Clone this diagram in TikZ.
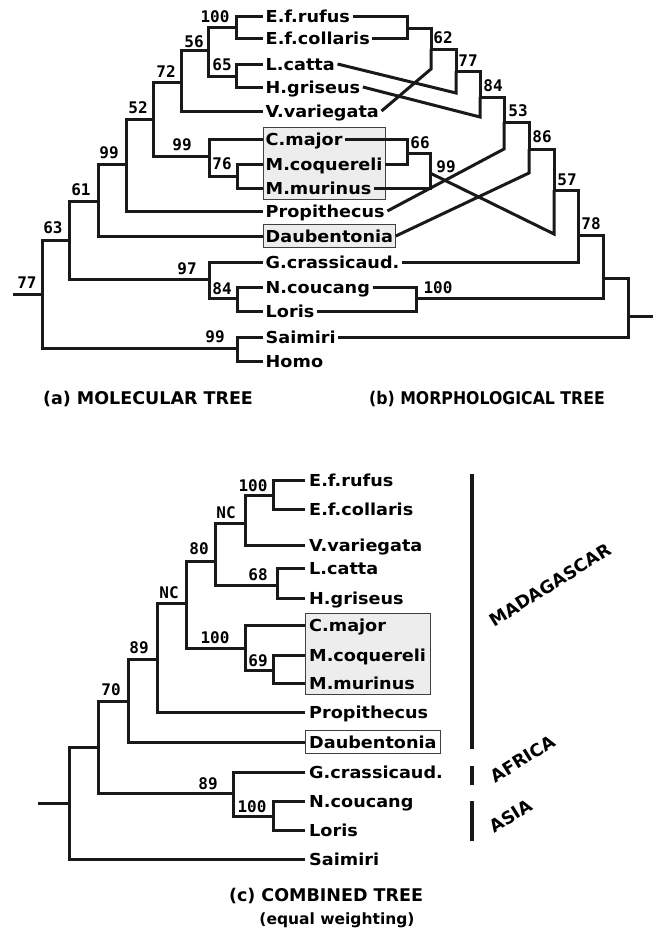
\documentclass[tikz,border=0pt]{standalone}
\usepackage{fontspec}
\setmainfont{DejaVu Sans}
\newfontfamily\taxfont[FakeStretch=1.07]{DejaVu Sans}
\newfontfamily\numfont{DejaVu Sans Mono}
\newfontfamily\capfont{DejaVu Sans}
\newfontfamily\capbfont[FakeStretch=0.9]{DejaVu Sans}
\usetikzlibrary{fit,backgrounds}
\tikzset{
  tree/.style={line width=3pt, black!90, line join=miter},
  taxa/.style={font=\taxfont\bfseries\fontsize{16.5}{18}\selectfont, anchor=west,
    inner xsep=2.5pt, inner ysep=0pt, text height=12pt, text depth=0pt, text=black},
  taxc/.style={taxa, inner xsep=4pt},
  num/.style={font=\numfont\bfseries\fontsize{16}{17}\selectfont, inner sep=0pt, text=black},
  grpbox/.style={draw=black!75, line width=0.9pt, fill=black!7, inner xsep=0pt, inner ysep=5pt},
  bar/.style={line width=3.4pt, black!90},
  region/.style={font=\capfont\bfseries\fontsize{17.5}{18}\selectfont, rotate=32, inner sep=0pt, text=black},
  captxt/.style={font=\capfont\bfseries\fontsize{17.5}{19}\selectfont, inner sep=0pt, text=black},
  capbtxt/.style={font=\capbfont\bfseries\fontsize{17.5}{19}\selectfont, inner sep=0pt, text=black},
  subcap/.style={font=\capfont\bfseries\fontsize{15.5}{17}\selectfont, inner sep=0pt, text=black}
}
\begin{document}
\begin{tikzpicture}[x=1pt,y=-1pt]
\useasboundingbox (0,0) rectangle (655,937);

% ---------------- (a) molecular tree: taxa ----------------
\node[taxa] (ta1) at (263,16) {E.f.rufus};
\node[taxa] (ta2) at (263,38) {E.f.collaris};
\node[taxa] (ta3) at (263,64) {L.catta};
\node[taxa] (ta4) at (263,87) {H.griseus};
\node[taxa] (ta5) at (263,111) {V.variegata};
\node[taxa] (ta6) at (263,139) {C.major};
\node[taxa] (ta7) at (263,164) {M.coquereli};
\node[taxa] (ta8) at (263,188) {M.murinus};
\node[taxa] (ta9) at (263,211) {Propithecus};
\node[taxa] (ta10) at (263,236) {Daubentonia};
\node[taxa] (ta11) at (263,262) {G.crassicaud.};
\node[taxa] (ta12) at (263,287) {N.coucang};
\node[taxa] (ta13) at (263,311) {Loris};
\node[taxa] (ta14) at (263,337) {Saimiri};
\node[taxa] (ta15) at (263,361) {Homo};

\begin{scope}[on background layer]
  \node[grpbox, fit=(ta6)(ta7)(ta8)] (boxa1) {};
  \node[grpbox, fit=(ta10)] (boxa2) {};
\end{scope}

\coordinate (a100) at (236,27);
\coordinate (a65) at (236,76);
\coordinate (a56) at (208,50);
\coordinate (a72) at (181,82);
\coordinate (a76) at (237,176);
\coordinate (a99u) at (209,156);
\coordinate (a52) at (153,119);
\coordinate (a99l) at (126,164);
\coordinate (a61) at (98,201);
\coordinate (a84) at (237,298);
\coordinate (a97) at (209,279);
\coordinate (a63) at (69,240);
\coordinate (a99s) at (237,348);
\coordinate (a77) at (42,294);
\coordinate (aroot) at (13,294);

\draw[tree] (ta1.west) -| (a100); \draw[tree] (ta2.west) -| (a100);
\draw[tree] (ta3.west) -| (a65);  \draw[tree] (ta4.west) -| (a65);
\draw[tree] (a100) -| (a56);      \draw[tree] (a65) -| (a56);
\draw[tree] (a56) -| (a72);       \draw[tree] (ta5.west) -| (a72);
\draw[tree] (ta7.west) -| (a76);  \draw[tree] (ta8.west) -| (a76);
\draw[tree] (ta6.west) -| (a99u); \draw[tree] (a76) -| (a99u);
\draw[tree] (a72) -| (a52);       \draw[tree] (a99u) -| (a52);
\draw[tree] (a52) -| (a99l);      \draw[tree] (ta9.west) -| (a99l);
\draw[tree] (a99l) -| (a61);      \draw[tree] (ta10.west) -| (a61);
\draw[tree] (ta12.west) -| (a84); \draw[tree] (ta13.west) -| (a84);
\draw[tree] (ta11.west) -| (a97); \draw[tree] (a84) -| (a97);
\draw[tree] (a61) -| (a63);       \draw[tree] (a97) -| (a63);
\draw[tree] (ta14.west) -| (a99s); \draw[tree] (ta15.west) -| (a99s);
\draw[tree] (a63) -| (a77);       \draw[tree] (a99s) -| (a77);
\draw[tree] (a77) -- (aroot);

\node[num] (la1) at (215,17) {100};
\node[num] (la2) at (194,42) {56};
\node[num] (la3) at (222,65) {65};
\node[num] (la4) at (166,72) {72};
\node[num] (la5) at (138,108) {52};
\node[num] (la6) at (182,145) {99};
\node[num] (la7) at (222,164) {76};
\node[num] (la8) at (109,153) {99};
\node[num] (la9) at (81,190) {61};
\node[num] (la10) at (53,228) {63};
\node[num] (la11) at (27,283) {77};
\node[num] (la12) at (187,269) {97};
\node[num] (la13) at (222,289) {84};
\node[num] (la14) at (215,337) {99};

% ---------------- (b) morphological tree ----------------
\coordinate (bEf) at (407,28);
\coordinate (b62) at (431,49);
\coordinate (bV) at (431,69);
\coordinate (b77) at (456,71);
\coordinate (bL) at (456,93);
\coordinate (b84) at (480,97);
\coordinate (bH) at (480,117);
\coordinate (b53) at (504,122);
\coordinate (bP) at (504,149);
\coordinate (b86) at (529,149);
\coordinate (bD) at (529,173);
\coordinate (bCM) at (407,153);
\coordinate (b99) at (430,173);
\coordinate (b57) at (554,190);
\coordinate (bX) at (554,234);
\coordinate (b78) at (578,235);
\coordinate (bNL) at (416,298);
\coordinate (b100) at (603,278);
\coordinate (broot) at (628,316);
\coordinate (brootend) at (653,316);

\draw[tree] (ta1.east) -| (bEf); \draw[tree] (ta2.east) -| (bEf);
\draw[tree] (bEf) -| (b62);  \draw[tree] (b62) -- (bV) -- (ta5.east);
\draw[tree] (b62) -| (b77);  \draw[tree] (b77) -- (bL) -- (ta3.east);
\draw[tree] (b77) -| (b84);  \draw[tree] (b84) -- (bH) -- (ta4.east);
\draw[tree] (b84) -| (b53);  \draw[tree] (b53) -- (bP) -- (ta9.east);
\draw[tree] (b53) -| (b86);  \draw[tree] (b86) -- (bD) -- (ta10.east);
\draw[tree] (ta6.east) -| (bCM); \draw[tree] (ta7.east) -| (bCM);
\draw[tree] (bCM) -| (b99);  \draw[tree] (ta8.east) -| (b99);
\draw[tree] (b86) -| (b57);  \draw[tree] (b57) -- (bX) -- (b99);
\draw[tree] (b57) -| (b78);  \draw[tree] (ta11.east) -| (b78);
\draw[tree] (ta12.east) -| (bNL); \draw[tree] (ta13.east) -| (bNL);
\draw[tree] (b78) -| (b100); \draw[tree] (bNL) -| (b100);
\draw[tree] (b100) -| (broot); \draw[tree] (ta14.east) -| (broot);
\draw[tree] (broot) -- (brootend);

\node[num] (lb1) at (443,38) {62};
\node[num] (lb2) at (468,61) {77};
\node[num] (lb3) at (493,86) {84};
\node[num] (lb4) at (518,111) {53};
\node[num] (lb5) at (542,137) {86};
\node[num] (lb6) at (420,143) {66};
\node[num] (lb7) at (446,167) {99};
\node[num] (lb8) at (567,180) {57};
\node[num] (lb9) at (591,224) {78};
\node[num] (lb10) at (438,288) {100};

\node[captxt] (capa) at (148,399) {(a) MOLECULAR TREE};
\node[capbtxt] (capb) at (487,399) {(b) MORPHOLOGICAL TREE};

% ---------------- (c) combined tree ----------------
\node[taxc] (tc1) at (305,480) {E.f.rufus};
\node[taxc] (tc2) at (305,509) {E.f.collaris};
\node[taxc] (tc3) at (305,545) {V.variegata};
\node[taxc] (tc4) at (305,568) {L.catta};
\node[taxc] (tc5) at (305,598) {H.griseus};
\node[taxc] (tc6) at (305,625) {C.major};
\node[taxc] (tc7) at (305,655) {M.coquereli};
\node[taxc] (tc8) at (305,683) {M.murinus};
\node[taxc] (tc9) at (305,712) {Propithecus};
\node[taxc] (tc10) at (305,742) {Daubentonia};
\node[taxc] (tc11) at (305,772) {G.crassicaud.};
\node[taxc] (tc12) at (305,801) {N.coucang};
\node[taxc] (tc13) at (305,830) {Loris};
\node[taxc] (tc14) at (305,859) {Saimiri};

\begin{scope}[on background layer]
  \node[grpbox, fit=(tc6)(tc7)(tc8)] (boxc1) {};
  \node[grpbox, fill=none, fit=(tc10)] (boxc2) {};
\end{scope}

\coordinate (c100a) at (273,495);
\coordinate (cNCa) at (245,523);
\coordinate (c68) at (277,585);
\coordinate (c80) at (215,561);
\coordinate (c69) at (273,670);
\coordinate (c100b) at (245,648);
\coordinate (cNCb) at (186,603);
\coordinate (c89a) at (157,659);
\coordinate (c70) at (128,701);
\coordinate (c100c) at (273,816);
\coordinate (c89b) at (233,793);
\coordinate (cin) at (98,747);
\coordinate (croot) at (69,803);
\coordinate (crootend) at (38,803);

\draw[tree] (tc1.west) -| (c100a); \draw[tree] (tc2.west) -| (c100a);
\draw[tree] (c100a) -| (cNCa);     \draw[tree] (tc3.west) -| (cNCa);
\draw[tree] (tc4.west) -| (c68);   \draw[tree] (tc5.west) -| (c68);
\draw[tree] (cNCa) -| (c80);       \draw[tree] (c68) -| (c80);
\draw[tree] (tc7.west) -| (c69);   \draw[tree] (tc8.west) -| (c69);
\draw[tree] (tc6.west) -| (c100b); \draw[tree] (c69) -| (c100b);
\draw[tree] (c80) -| (cNCb);       \draw[tree] (c100b) -| (cNCb);
\draw[tree] (cNCb) -| (c89a);      \draw[tree] (tc9.west) -| (c89a);
\draw[tree] (c89a) -| (c70);       \draw[tree] (tc10.west) -| (c70);
\draw[tree] (tc12.west) -| (c100c); \draw[tree] (tc13.west) -| (c100c);
\draw[tree] (tc11.west) -| (c89b); \draw[tree] (c100c) -| (c89b);
\draw[tree] (c70) -| (cin);        \draw[tree] (c89b) -| (cin);
\draw[tree] (cin) -| (croot);      \draw[tree] (tc14.west) -| (croot);
\draw[tree] (croot) -- (crootend);

\node[num] (lc1) at (253,486) {100};
\node[num] (lc2) at (226,513) {NC};
\node[num] (lc3) at (199,549) {80};
\node[num] (lc4) at (258,575) {68};
\node[num] (lc5) at (169,593) {NC};
\node[num] (lc6) at (215,638) {100};
\node[num] (lc7) at (139,648) {89};
\node[num] (lc8) at (258,661) {69};
\node[num] (lc9) at (111,690) {70};
\node[num] (lc10) at (208,784) {89};
\node[num] (lc11) at (252,807) {100};

% region bars
\coordinate (mgA) at (472,474); \coordinate (mgB) at (472,749);
\coordinate (afA) at (472,766); \coordinate (afB) at (472,785);
\coordinate (asA) at (472,801); \coordinate (asB) at (472,841);
\draw[bar] (mgA) -- (mgB);
\draw[bar] (afA) -- (afB);
\draw[bar] (asA) -- (asB);
\node[region] (madag) at (550,585) {MADAGASCAR};
\node[region] (africa) at (523,759) {AFRICA};
\node[region] (asia) at (511,816) {ASIA};

\node[captxt] (capc) at (326,896) {(c) COMBINED TREE};
\node[subcap] (capc2) at (337,920) {(equal weighting)};
\end{tikzpicture}
\end{document}
